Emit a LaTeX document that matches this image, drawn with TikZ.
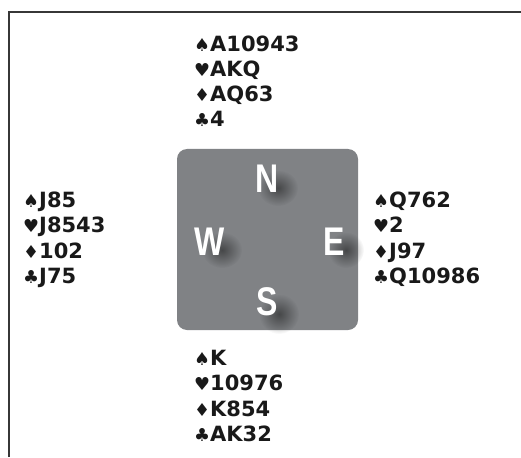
\documentclass[tikz,border=0pt]{standalone}
\usepackage{fontspec}
\setmainfont{DejaVu Sans}
\newfontfamily\suitfont{DejaVu Sans}
\newfontfamily\compassfont{Liberation Sans}
\usetikzlibrary{fadings}
\definecolor{sqgray}{RGB}{128,130,133}
\definecolor{framegray}{RGB}{55,55,55}
\definecolor{ink}{RGB}{25,25,25}
\tikzfading[name=softspot, inner color=transparent!0, outer color=transparent!100]
\newcommand\su[1]{{\suitfont\mdseries\scalebox{0.85}{#1}}}
\newcommand\cl[1]{\scalebox{0.8}[1]{#1}}
\tikzset{
  hand/.style={anchor=base west, inner sep=0pt, text=ink, font=\fontsize{21}{25}\selectfont\bfseries},
  compass/.style={inner sep=0pt, text=white, font=\compassfont\bfseries\fontsize{40}{40}\selectfont},
  board/.style={fill=sqgray, rounded corners=10pt, minimum width=181pt, minimum height=181pt, inner sep=0pt},
  frameline/.style={draw=framegray, line width=2pt},
  shade spot/.style={fill=black, opacity=0.45, path fading=softspot}
}
\begin{document}
\begin{tikzpicture}[x=1pt,y=-1pt]
\useasboundingbox (0,0) rectangle (521,457);
\draw[frameline] (8.5,457) -- (8.5,12.5) -- (521,12.5);
\node[board] (board) at (267.5,239.5) {};
% soft shadows behind compass letters
\fill[shade spot] (278,188) ellipse (20 and 18);
\fill[shade spot] (222,250) ellipse (20 and 18);
\fill[shade spot] (346,250) ellipse (18 and 18);
\fill[shade spot] (279,314) ellipse (20 and 20);
\node[compass] (cn) at (267.5,179) {\cl{N}};
\node[compass] (cw) at (210,241.5) {\cl{W}};
\node[compass] (ce) at (334,241.5) {\cl{E}};
\node[compass] (cs) at (267.5,301.5) {\cl{S}};
% North
\node[hand] (n1) at (194,52) {\su{♠}A10943};
\node[hand] (n2) at (194,77) {\su{♥}AKQ};
\node[hand] (n3) at (194,102) {\su{♦}AQ63};
\node[hand] (n4) at (194,127) {\su{♣}4};
% West
\node[hand] (w1) at (23,207) {\su{♠}J85};
\node[hand] (w2) at (23,232) {\su{♥}J8543};
\node[hand] (w3) at (23,258) {\su{♦}102};
\node[hand] (w4) at (23,283) {\su{♣}J75};
% East
\node[hand] (e1) at (373,207) {\su{♠}Q762};
\node[hand] (e2) at (373,232) {\su{♥}2};
\node[hand] (e3) at (373,258) {\su{♦}J97};
\node[hand] (e4) at (373,283) {\su{♣}Q10986};
% South
\node[hand] (s1) at (194,365) {\su{♠}K};
\node[hand] (s2) at (194,390) {\su{♥}10976};
\node[hand] (s3) at (194,416) {\su{♦}K854};
\node[hand] (s4) at (194,441) {\su{♣}AK32};
\end{tikzpicture}
\end{document}
